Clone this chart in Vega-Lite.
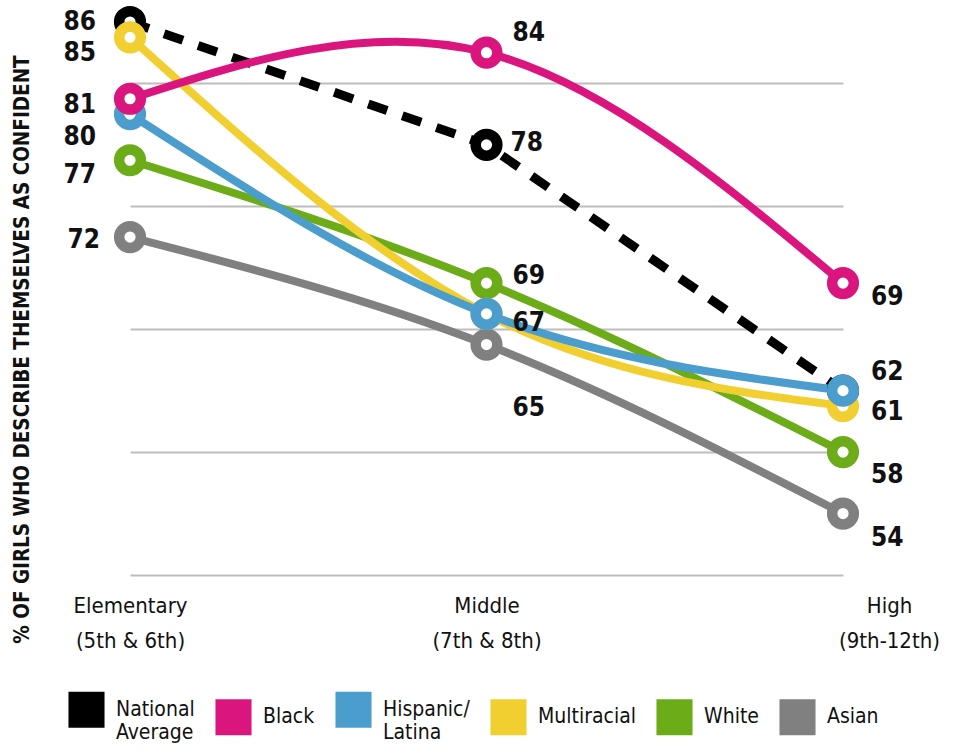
{
  "$schema": "https://vega.github.io/schema/vega-lite/v6.json",
  "autosize": {"type": "none"},
  "padding": {"left": 130, "top": 2, "right": 110, "bottom": 176},
  "width": 713,
  "height": 573,
  "background": "white",
  "config": {
    "font": "DejaVu Sans Condensed, Liberation Sans Narrow, sans-serif",
    "view": {"stroke": null}
  },
  "data": {
    "values": [
      {"group": "National Average", "level": "Elementary", "value": 86},
      {"group": "National Average", "level": "Middle", "value": 78},
      {"group": "National Average", "level": "High", "value": 62},
      {"group": "Asian", "level": "Elementary", "value": 72},
      {"group": "Asian", "level": "Middle", "value": 65},
      {"group": "Asian", "level": "High", "value": 54},
      {"group": "White", "level": "Elementary", "value": 77},
      {"group": "White", "level": "Middle", "value": 69},
      {"group": "White", "level": "High", "value": 58},
      {"group": "Multiracial", "level": "Elementary", "value": 85},
      {"group": "Multiracial", "level": "Middle", "value": 67},
      {"group": "Multiracial", "level": "High", "value": 61},
      {"group": "Hispanic/Latina", "level": "Elementary", "value": 80},
      {"group": "Hispanic/Latina", "level": "Middle", "value": 67},
      {"group": "Hispanic/Latina", "level": "High", "value": 62},
      {"group": "Black", "level": "Elementary", "value": 81},
      {"group": "Black", "level": "Middle", "value": 84},
      {"group": "Black", "level": "High", "value": 69}
    ]
  },
  "encoding": {
    "x": {
      "field": "level", "type": "ordinal",
      "scale": {"type": "point", "domain": ["Elementary", "Middle", "High"], "padding": 0},
      "axis": {
        "title": null, "domain": false, "ticks": false, "grid": false,
        "labelAngle": 0, "labelFontSize": 22, "labelColor": "#111",
        "labelLineHeight": 35, "labelPadding": 20,
        "labelOffset": {"condition": {"test": "datum.value == 'High'", "value": 46}, "value": 0},
        "labelExpr": "datum.value == 'Elementary' ? ['Elementary', '(5th & 6th)'] : datum.value == 'Middle' ? ['Middle', '(7th & 8th)'] : ['High', '(9th-12th)']"
      }
    },
    "y": {
      "field": "value", "type": "quantitative",
      "scale": {"domain": [50, 87.3], "nice": false, "zero": false},
      "axis": {
        "title": "% OF GIRLS WHO DESCRIBE THEMSELVES AS CONFIDENT",
        "values": [50, 58, 66, 74, 82],
        "labels": false, "ticks": false, "domain": false,
        "grid": true, "gridColor": "#bdbdbd", "gridWidth": 2,
        "titleFontSize": 20.5, "titleFontWeight": "bold", "titleColor": "#111",
        "titleX": -108, "titleY": 347, "titleBaseline": "middle", "titleAngle": -90
      }
    }
  },
  "layer": [
    {
      "transform": [{"filter": "datum.group == 'National Average'"}],
      "mark": {"type": "line", "strokeWidth": 9, "strokeDash": [20, 16], "interpolate": "linear"},
      "encoding": {
        "color": {"field": "group", "type": "nominal",
          "scale": {"domain": ["National Average", "Black", "Hispanic/Latina", "Multiracial", "White", "Asian"],
                    "range": ["#000000", "#DA167E", "#4A9DCC", "#F2CF30", "#6DAC19", "#808080"]},
          "legend": {
            "title": null, "orient": "none", "direction": "horizontal",
            "legendX": -62, "legendY": 689,
            "symbolType": "square", "symbolSize": 1300, "symbolStrokeWidth": 0,
            "labelFontSize": 21, "labelColor": "#111", "labelOffset": 11, "labelLimit": 300,
            "labelLineHeight": 30, "labelBaseline": "middle",
            "columnPadding": 20,
            "labelExpr": "datum.label == 'National Average' ? ['National', 'Average'] : datum.label == 'Hispanic/Latina' ? ['Hispanic/', 'Latina'] : datum.label",
            "encode": {"symbols": {"update": {"fill": {"scale": "color", "field": "value"}, "fillOpacity": {"value": 1}, "strokeWidth": {"value": 0}}}}
          }
        }
      }
    },
    {
      "transform": [{"filter": "datum.group != 'National Average'"}],
      "mark": {"type": "line", "strokeWidth": 8, "interpolate": "natural"},
      "encoding": {"color": {"field": "group", "type": "nominal"}}
    },
    {
      "mark": {"type": "point", "shape": "circle", "size": 470, "strokeWidth": 10.5, "fill": "white", "filled": false, "opacity": 1},
      "encoding": {"color": {"field": "group", "type": "nominal"}}
    },
    {"transform": [{"filter": "datum.level == 'Elementary' && datum.group == 'National Average'"}], "mark": {"type": "text", "align": "right", "dx": -34, "dy": 0, "fontSize": 26, "fontWeight": "bold", "color": "#111"}, "encoding": {"text": {"field": "value"}}},
    {"transform": [{"filter": "datum.level == 'Elementary' && datum.group == 'Multiracial'"}], "mark": {"type": "text", "align": "right", "dx": -34, "dy": 16, "fontSize": 26, "fontWeight": "bold", "color": "#111"}, "encoding": {"text": {"field": "value"}}},
    {"transform": [{"filter": "datum.level == 'Elementary' && datum.group == 'Black'"}], "mark": {"type": "text", "align": "right", "dx": -34, "dy": 6, "fontSize": 26, "fontWeight": "bold", "color": "#111"}, "encoding": {"text": {"field": "value"}}},
    {"transform": [{"filter": "datum.level == 'Elementary' && datum.group == 'Hispanic/Latina'"}], "mark": {"type": "text", "align": "right", "dx": -34, "dy": 23, "fontSize": 26, "fontWeight": "bold", "color": "#111"}, "encoding": {"text": {"field": "value"}}},
    {"transform": [{"filter": "datum.level == 'Elementary' && datum.group == 'White'"}], "mark": {"type": "text", "align": "right", "dx": -34, "dy": 15, "fontSize": 26, "fontWeight": "bold", "color": "#111"}, "encoding": {"text": {"field": "value"}}},
    {"transform": [{"filter": "datum.level == 'Elementary' && datum.group == 'Asian'"}], "mark": {"type": "text", "align": "right", "dx": -30, "dy": 3, "fontSize": 26, "fontWeight": "bold", "color": "#111"}, "encoding": {"text": {"field": "value"}}},
    {"transform": [{"filter": "datum.level == 'Middle' && datum.group == 'Black'"}], "mark": {"type": "text", "align": "left", "dx": 26, "dy": -20, "fontSize": 26, "fontWeight": "bold", "color": "#111"}, "encoding": {"text": {"field": "value"}}},
    {"transform": [{"filter": "datum.level == 'Middle' && datum.group == 'National Average'"}], "mark": {"type": "text", "align": "left", "dx": 24, "dy": -2, "fontSize": 26, "fontWeight": "bold", "color": "#111"}, "encoding": {"text": {"field": "value"}}},
    {"transform": [{"filter": "datum.level == 'Middle' && datum.group == 'White'"}], "mark": {"type": "text", "align": "left", "dx": 26, "dy": -7, "fontSize": 26, "fontWeight": "bold", "color": "#111"}, "encoding": {"text": {"field": "value"}}},
    {"transform": [{"filter": "datum.level == 'Middle' && datum.group == 'Hispanic/Latina'"}], "mark": {"type": "text", "align": "left", "dx": 26, "dy": 9, "fontSize": 26, "fontWeight": "bold", "color": "#111"}, "encoding": {"text": {"field": "value"}}},
    {"transform": [{"filter": "datum.level == 'Middle' && datum.group == 'Asian'"}], "mark": {"type": "text", "align": "left", "dx": 26, "dy": 63, "fontSize": 26, "fontWeight": "bold", "color": "#111"}, "encoding": {"text": {"field": "value"}}},
    {"transform": [{"filter": "datum.level == 'High' && datum.group == 'Black'"}], "mark": {"type": "text", "align": "left", "dx": 28, "dy": 14, "fontSize": 26, "fontWeight": "bold", "color": "#111"}, "encoding": {"text": {"field": "value"}}},
    {"transform": [{"filter": "datum.level == 'High' && datum.group == 'Hispanic/Latina'"}], "mark": {"type": "text", "align": "left", "dx": 28, "dy": -19, "fontSize": 26, "fontWeight": "bold", "color": "#111"}, "encoding": {"text": {"field": "value"}}},
    {"transform": [{"filter": "datum.level == 'High' && datum.group == 'Multiracial'"}], "mark": {"type": "text", "align": "left", "dx": 28, "dy": 6, "fontSize": 26, "fontWeight": "bold", "color": "#111"}, "encoding": {"text": {"field": "value"}}},
    {"transform": [{"filter": "datum.level == 'High' && datum.group == 'White'"}], "mark": {"type": "text", "align": "left", "dx": 28, "dy": 23, "fontSize": 26, "fontWeight": "bold", "color": "#111"}, "encoding": {"text": {"field": "value"}}},
    {"transform": [{"filter": "datum.level == 'High' && datum.group == 'Asian'"}], "mark": {"type": "text", "align": "left", "dx": 28, "dy": 24, "fontSize": 26, "fontWeight": "bold", "color": "#111"}, "encoding": {"text": {"field": "value"}}}
  ]
}
